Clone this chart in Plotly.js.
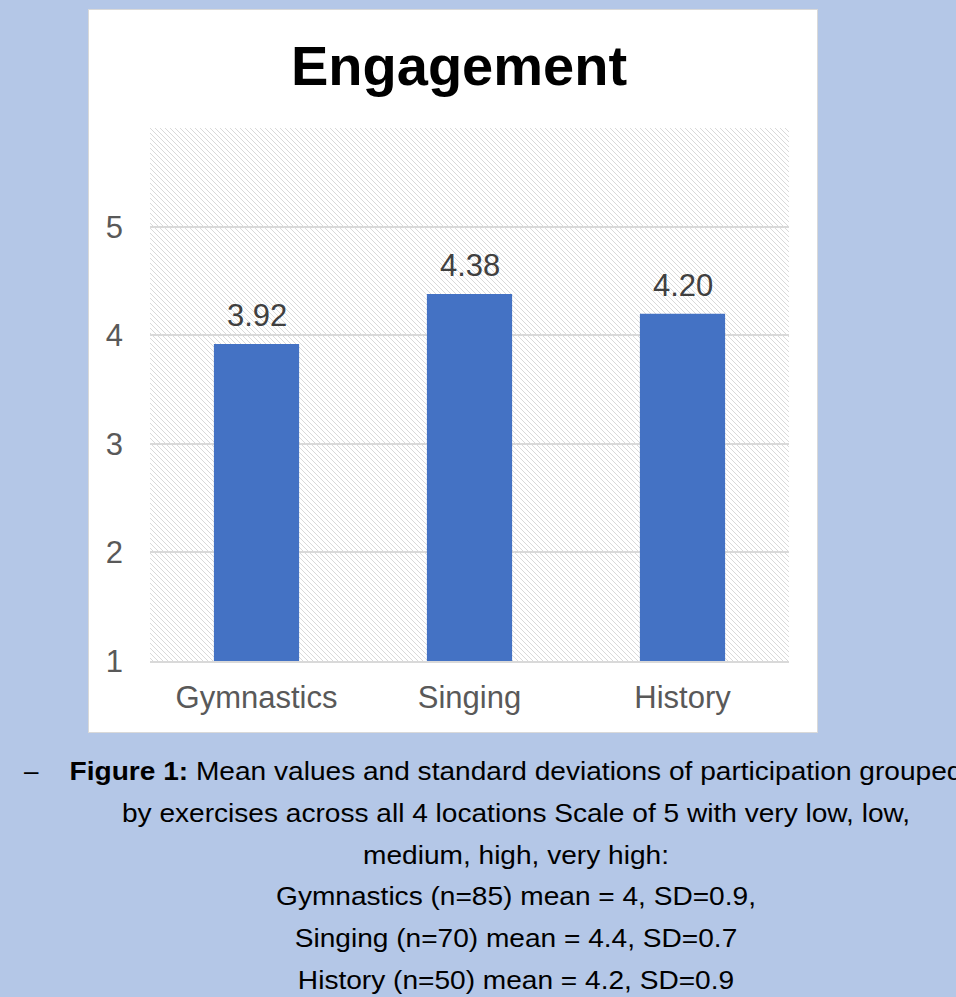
<!DOCTYPE html>
<html>
<head>
<meta charset="utf-8">
<script src="https://cdn.plot.ly/plotly-3.0.1.min.js"></script>
<style>
  html, body { margin: 0; padding: 0; }
  body {
    width: 956px; height: 997px; overflow: hidden;
    background: #b4c7e7; position: relative;
    font-family: "Liberation Sans", Arial, sans-serif;
  }
  #card {
    position: absolute; left: 88px; top: 9px;
    width: 728px; height: 722px;
    background: #ffffff; border: 1px solid #d9d9d9;
  }
  #chart { position: absolute; left: 0; top: 0; width: 956px; height: 997px; }
  #caption {
    position: absolute; left: 0; top: 751px; width: 1032px;
    font-size: 26px; line-height: 41.8px; color: #000;
    transform: scaleX(1.08); transform-origin: 516px 0;
  }
  #caption div { text-align: center; white-space: nowrap; }
  #dash {
    position: absolute; left: 24px; top: 751px;
    font-size: 26px; line-height: 41.8px; color: #000;
  }
</style>
</head>
<body>
<div id="card"></div>
<div id="chart"></div>
<div id="dash">–</div>
<div id="caption">
  <div><b>Figure 1:</b> Mean values and standard deviations of participation grouped</div>
  <div>by exercises across all 4 locations Scale of 5 with very low, low,</div>
  <div>medium, high, very high:</div>
  <div>Gymnastics (n=85) mean = 4, SD=0.9,</div>
  <div>Singing (n=70) mean = 4.4, SD=0.7</div>
  <div>History (n=50) mean = 4.2, SD=0.9</div>
</div>
<script>
// Mean engagement per exercise
const categories = ["Gymnastics", "Singing", "History"];
const meanValues = [3.92, 4.38, 4.20];
const yTickValues = [1, 2, 3, 4, 5];

const FONT = '"Liberation Sans", Arial, sans-serif';

// Light downward-diagonal hatch used as the plot-area fill
const plotW = 956 - 150 - 167;
const plotH = 997 - 128 - 336;
const hatchSvg =
  '<svg xmlns="http://www.w3.org/2000/svg" width="' + plotW + '" height="' + plotH + '">' +
  '<defs><pattern id="h" patternUnits="userSpaceOnUse" width="5" height="5">' +
  '<path d="M0,0 L5,5 M-1,4 L1,6 M4,-1 L6,1" stroke="#d9d9d9" stroke-width="1"/>' +
  '</pattern></defs>' +
  '<rect width="100%" height="100%" fill="#ffffff"/>' +
  '<rect width="100%" height="100%" fill="url(#h)"/></svg>';
const hatchUri = 'data:image/svg+xml;base64,' + btoa(hatchSvg);

const bars = {
  type: 'bar',
  x: categories,
  y: meanValues,
  marker: { color: '#4472c4', line: { width: 0 } },
  hoverinfo: 'skip'
};

// Value labels above each bar
const valueLabels = categories.map((c, i) => ({
  x: c,
  y: meanValues[i],
  xref: 'x',
  yref: 'y',
  text: meanValues[i].toFixed(2),
  showarrow: false,
  yanchor: 'bottom',
  yshift: 9,
  font: { family: FONT, size: 31, color: '#404040' }
}));

const layout = {
  width: 956,
  height: 997,
  margin: { l: 150, r: 167, t: 128, b: 336, pad: 0 },
  paper_bgcolor: 'rgba(0,0,0,0)',
  plot_bgcolor: 'rgba(0,0,0,0)',
  showlegend: false,
  bargap: 0.6,
  title: {
    text: '<b>Engagement</b>',
    font: { family: FONT, size: 56, color: '#000000' },
    x: 459 / 956,
    xanchor: 'center',
    xref: 'container',
    y: 1 - 65 / 997,
    yanchor: 'middle',
    yref: 'container'
  },
  xaxis: {
    type: 'category',
    showgrid: false,
    showline: true,
    linecolor: '#d9d9d9',
    linewidth: 2,
    ticks: '',
    ticklabelstandoff: 8,
    tickfont: { family: FONT, size: 31, color: '#595959' },
    fixedrange: true
  },
  yaxis: {
    range: [1, 5.91],
    tickvals: yTickValues,
    ticktext: yTickValues.map(String),
    showgrid: true,
    gridcolor: '#d9d9d9',
    gridwidth: 2,
    zeroline: false,
    showline: false,
    ticks: '',
    ticklabelstandoff: 26,
    tickfont: { family: FONT, size: 31, color: '#595959' },
    fixedrange: true
  },
  images: [{
    source: hatchUri,
    xref: 'paper', yref: 'paper',
    x: 0, y: 1, sizex: 1, sizey: 1,
    xanchor: 'left', yanchor: 'top',
    sizing: 'stretch',
    layer: 'below'
  }],
  annotations: valueLabels
};

Plotly.newPlot('chart', [bars], layout, { displayModeBar: false, staticPlot: true });
</script>
</body>
</html>
